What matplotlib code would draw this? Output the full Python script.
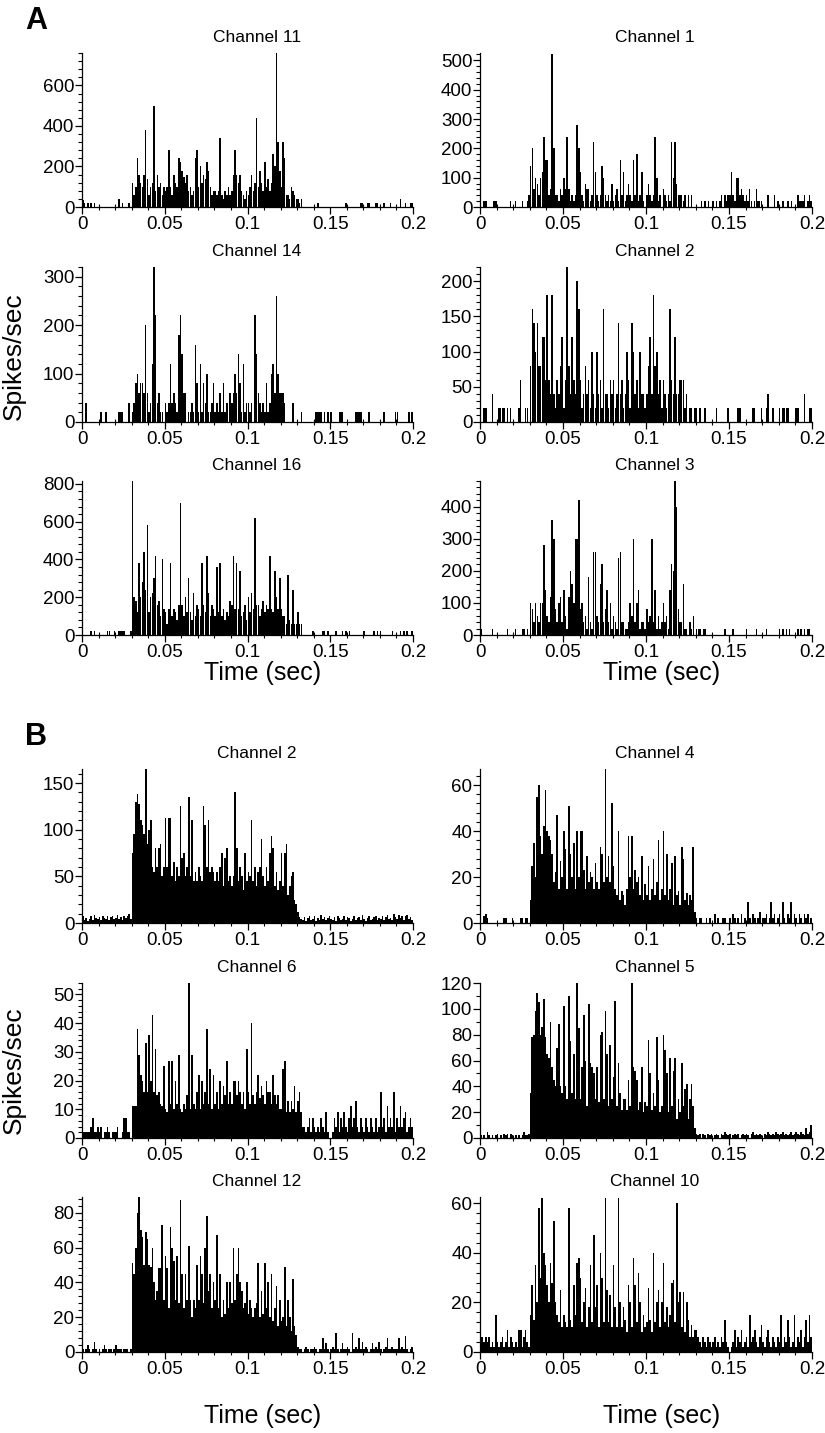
import numpy as np
import matplotlib
matplotlib.use("Agg")
import matplotlib.pyplot as plt
from matplotlib.ticker import MultipleLocator

plt.rcParams['font.family'] = ['Liberation Sans', 'DejaVu Sans']

# PSTH values, spikes/sec in 1 ms bins from 0 to 0.2 s (200 bins per channel)
# panel A
a_ch11 = [35,20,0,20,0,20,0,20,0,0, 0,0,0,0,0,0,0,0,0,0,
          0,0,40,0,20,0,0,0,20,0, 120,60,100,240,160,120,100,160,380,140,
          60,100,120,500,80,160,100,120,60,100, 80,100,280,100,60,160,120,100,240,220,
          180,150,120,160,80,100,60,80,240,280, 100,200,120,160,140,220,180,100,60,80,
          80,60,80,340,60,40,80,60,100,60, 80,160,280,160,120,160,80,60,40,80,
          60,100,160,80,120,440,100,180,120,80, 220,100,140,80,120,260,200,760,320,180,
          100,320,240,60,60,40,100,80,60,40, 40,20,40,0,0,0,0,0,0,0,
          0,0,20,0,0,0,0,0,0,0, 0,0,0,0,0,0,0,0,0,20,
          0,0,0,0,0,0,0,0,20,20, 0,0,20,20,0,0,0,20,20,0,
          0,0,20,0,0,0,20,0,0,0, 0,0,40,0,0,20,0,0,20,20]
a_ch1 = [0,0,20,20,0,0,0,0,20,20, 0,0,0,0,0,0,0,0,20,0,
         0,20,0,0,0,20,0,0,20,40, 140,200,60,100,80,40,100,120,240,160,
         160,40,60,520,200,40,40,20,60,40, 100,60,240,60,20,40,20,40,280,200,
         120,40,20,80,60,60,20,40,220,120, 40,20,40,140,100,40,20,40,20,80,
         20,40,60,20,160,40,120,20,40,80, 40,20,160,40,180,20,40,120,20,0,
         40,80,40,20,40,240,100,20,40,0, 60,40,20,40,20,220,100,220,80,40,
         40,40,20,40,0,40,0,40,0,0, 0,0,0,20,0,20,0,20,0,0,
         20,0,20,0,20,40,0,40,20,40, 40,120,40,20,100,100,40,60,40,20,
         40,20,60,20,0,20,60,20,20,20, 0,0,0,40,0,0,0,40,0,20,
         0,0,20,0,0,20,0,20,0,0, 0,40,20,20,20,40,0,20,40,20]
a_ch14 = [0,0,40,0,0,0,0,0,0,0, 0,20,0,0,20,0,0,0,0,0,
          0,0,20,20,20,0,0,0,40,0, 20,40,80,100,60,80,80,60,200,60,
          20,40,120,320,220,40,60,20,20,0, 40,20,40,120,40,60,40,20,180,220,
          140,60,60,0,20,20,40,20,160,80, 20,120,20,80,40,100,20,20,40,80,
          20,40,20,60,20,80,20,40,0,60, 40,60,100,60,140,80,20,120,20,40,
          40,20,40,0,220,140,60,40,20,40, 20,80,20,40,100,120,60,260,100,60,
          60,60,40,0,0,0,0,40,0,0, 0,0,20,0,0,0,0,0,0,0,
          0,20,20,20,20,0,20,0,20,0, 20,0,0,0,0,20,20,20,0,0,
          0,0,0,0,0,20,20,20,20,0, 0,0,0,20,0,0,0,0,0,0,
          0,0,20,0,0,0,0,0,0,20, 20,0,0,0,0,0,0,20,0,20]
a_ch2 = [0,0,20,20,0,0,0,40,0,0, 0,20,20,20,20,0,20,0,20,0,
         0,0,0,20,60,0,0,20,20,0, 80,160,140,100,140,80,80,120,120,60,
         180,60,40,180,40,20,60,40,80,120, 20,60,220,80,40,120,60,40,200,160,
         60,20,40,80,40,60,20,100,40,20, 100,40,60,20,160,40,40,20,60,40,
         60,20,40,140,40,60,20,40,100,60, 20,140,100,40,60,20,100,40,40,20,
         40,80,120,40,180,80,100,40,60,20, 60,40,20,40,160,60,40,120,40,40,
         60,60,60,20,40,0,20,20,0,20, 20,0,20,0,0,20,0,0,0,0,
         0,0,20,0,0,0,0,0,0,20, 0,0,0,0,0,20,20,0,0,0,
         0,0,0,0,20,20,0,0,0,20, 0,0,20,40,0,0,20,0,0,0,
         20,0,20,20,20,20,0,0,0,0, 20,20,0,0,0,40,0,0,20,20]
a_ch16 = [0,0,0,0,0,20,0,20,0,0, 0,0,0,0,0,20,20,0,0,20,
          0,0,20,20,20,20,0,0,0,20, 820,200,180,120,380,200,280,440,240,580,
          120,200,220,300,420,160,180,100,400,140, 120,60,140,380,100,140,120,80,160,700,
          160,100,200,120,300,120,80,220,100,160, 140,100,380,160,120,420,220,100,160,140,
          100,360,120,380,100,140,80,120,100,180, 160,420,140,380,140,340,100,120,160,80,
          200,120,220,140,620,160,160,100,140,180, 120,160,140,420,140,120,340,200,140,300,
          140,100,100,60,320,80,60,240,60,60, 120,60,60,0,0,0,0,0,0,20,
          0,0,0,0,0,20,20,0,20,0, 0,0,0,20,0,0,0,20,0,20,
          0,20,0,0,0,0,0,0,0,0, 20,0,0,0,0,0,20,0,20,0,
          20,0,0,0,0,0,0,20,0,0, 0,0,20,0,20,0,20,0,0,20]
a_ch3 = [20,0,0,0,0,0,0,20,0,0, 0,0,0,0,0,0,20,0,0,0,
         0,20,0,0,0,20,20,0,20,0, 100,80,40,100,60,40,100,100,280,140,
         60,40,120,360,300,80,40,100,120,40, 140,60,20,120,200,160,100,300,300,420,
         80,100,40,60,20,180,40,20,260,260, 60,40,160,220,40,80,140,40,100,20,
         60,40,20,240,260,40,40,20,20,40, 100,60,300,40,100,140,20,40,40,20,
         80,40,60,300,40,140,20,60,20,40, 100,40,60,20,140,220,200,480,400,80,
         40,40,160,20,20,0,40,20,60,0, 20,20,20,0,20,20,0,0,0,0,
         0,0,0,0,0,0,0,20,0,0, 0,0,20,0,0,0,0,0,0,0,
         20,0,0,0,0,0,20,0,0,0, 0,0,20,0,0,0,0,0,0,0,
         20,0,20,0,20,0,20,0,0,0, 0,20,0,20,0,20,0,20,20,0]

# panel B
b_ch2 = [8,3,5,2,4,7,3,9,5,4, 6,3,8,5,4,7,3,6,8,4,
         5,9,4,6,3,8,5,7,10,4, 75,95,130,138,128,110,105,95,165,85,
         100,110,60,55,80,60,80,85,50,60, 113,60,113,113,50,65,45,60,50,125,
         70,75,50,60,135,50,110,45,55,45, 60,50,45,125,105,60,110,55,60,55,
         45,55,45,60,75,40,70,80,45,50, 40,50,140,80,45,60,50,35,75,45,
         55,50,110,45,60,40,55,60,90,50, 40,60,45,75,93,80,40,55,35,45,
         75,40,75,85,30,40,50,55,25,20, 12,6,4,3,6,2,5,8,3,4,
         7,2,5,3,9,4,6,3,5,8, 4,3,6,2,7,5,3,4,8,3,
         6,5,2,4,7,3,5,6,3,9, 4,2,5,7,3,4,6,8,3,5,
         4,7,3,6,9,4,5,3,10,6, 4,9,5,8,3,7,9,4,6,3]
b_ch4 = [0,0,3,4,2,0,0,0,0,0, 0,0,0,0,2,2,0,0,0,2,
         0,0,0,0,2,2,0,2,2,0, 10,25,35,20,55,60,38,30,42,58,
         40,38,36,30,18,22,47,15,27,20, 40,32,15,51,30,20,35,15,40,20,
         40,40,23,15,29,18,22,20,15,26, 18,15,33,30,18,67,20,29,18,52,
         25,15,12,40,10,14,12,8,15,38, 20,38,15,23,18,20,12,29,10,17,
         12,25,10,15,28,12,18,36,10,15, 40,12,30,10,15,26,8,29,12,14,
         8,33,28,10,13,8,12,10,33,5, 2,0,2,2,0,0,2,0,2,0,
         0,4,0,2,0,0,2,2,0,0, 2,0,4,2,0,2,0,4,0,2,
         0,9,2,0,4,2,0,2,5,0, 2,2,4,0,2,9,2,4,0,2,
         4,0,9,2,0,4,2,9,0,4, 2,0,4,2,0,4,2,4,0,2]
b_ch6 = [2,2,2,2,2,4,7,2,2,4, 2,4,0,2,2,4,2,0,2,2,
         2,4,0,0,2,7,7,2,2,0, 11,11,11,38,29,22,20,16,33,16,
         36,20,43,16,31,15,16,12,11,25, 10,9,27,12,27,10,20,12,29,10,
         9,12,10,15,54,10,29,12,10,16, 22,10,20,12,16,38,12,24,10,22,
         12,16,10,20,12,18,15,27,12,16, 12,20,20,15,20,16,12,16,10,31,
         16,12,40,15,12,16,22,14,18,15, 12,20,16,16,12,22,15,12,15,10,
         10,24,27,9,13,9,13,10,18,9, 13,16,9,4,4,2,4,7,2,7,
         4,2,4,2,7,4,2,9,2,0, 0,2,7,4,9,2,7,4,9,4,
         2,7,11,4,7,13,4,2,7,4, 2,7,4,2,7,4,2,7,2,4,
         16,4,7,2,11,4,7,4,16,2, 7,4,11,4,7,9,2,4,7,4]
b_ch5 = [2,0,2,0,5,2,0,2,0,2, 3,0,2,0,3,2,3,0,3,2,
         0,2,0,2,0,2,5,2,2,3, 35,78,80,98,112,105,80,86,108,78,
         65,62,90,55,45,40,70,88,40,35, 102,40,30,110,75,35,65,30,120,85,
         30,55,95,60,25,104,58,55,50,30, 55,28,80,82,30,98,65,25,72,30,
         47,106,25,58,35,22,30,30,22,45, 25,120,55,52,45,22,28,55,20,28,
         25,76,50,22,35,25,78,45,20,25, 80,68,50,20,62,25,52,62,15,30,
         20,58,25,38,42,15,30,42,25,8, 3,2,3,0,3,2,0,3,2,3,
         0,2,3,2,0,3,2,5,3,2, 3,0,2,3,2,3,0,2,3,2,
         3,2,0,3,5,2,3,2,3,2, 0,3,2,5,3,2,3,2,5,3,
         2,3,5,2,3,2,3,5,2,3, 5,3,2,5,3,2,8,3,5,10]
b_ch12 = [2,0,2,4,2,0,2,6,2,0, 2,0,2,4,2,0,2,2,0,2,
          4,2,2,2,0,2,2,2,0,2, 51,45,60,80,89,70,66,50,69,65,
          50,49,60,40,30,35,48,48,73,30, 55,48,25,72,60,52,30,55,28,87,
          45,25,45,30,61,30,20,30,25,50, 30,55,45,28,60,78,35,45,25,40,
          30,67,25,45,20,30,22,40,25,40, 28,60,30,45,60,40,35,25,28,40,
          22,30,25,20,25,28,51,20,35,22, 51,25,40,20,45,18,25,38,15,30,
          18,20,49,15,30,20,12,42,15,10, 3,2,2,0,2,3,2,0,2,2,
          3,2,0,2,2,8,2,5,2,0, 2,3,2,11,2,0,2,5,2,2,
          3,2,0,11,2,3,2,8,2,6, 2,3,2,0,2,5,2,3,2,6,
          2,0,2,3,8,2,2,3,2,2, 2,8,2,3,2,9,2,0,2,3]
b_ch10 = [6,6,4,6,4,6,2,4,2,15, 4,2,4,6,2,4,9,2,6,4,
          2,4,2,9,9,2,6,9,4,2, 15,27,13,35,20,58,30,62,40,35,
          27,20,36,28,53,20,15,12,25,10, 15,12,10,58,13,10,27,15,36,38,
          30,12,20,26,10,18,35,12,47,18, 27,10,40,30,12,62,25,12,23,10,
          35,18,10,62,20,10,18,13,8,27, 20,10,38,27,12,32,20,8,15,10,
          12,26,13,8,40,12,20,25,10,20, 36,12,18,10,15,28,29,12,60,20,
          24,10,24,8,20,13,6,11,6,9, 9,6,4,2,6,4,2,6,4,2,
          4,6,2,4,2,6,4,13,4,2, 0,2,4,9,2,6,4,9,2,4,
          6,2,15,4,6,9,4,2,6,11, 4,2,6,9,4,2,6,4,2,6,
          4,15,2,6,4,13,6,2,4,15, 2,6,4,9,2,6,13,4,15,6]

titles = ["Channel 11", "Channel 1", "Channel 14", "Channel 2", "Channel 16", "Channel 3",
          "Channel 2", "Channel 4", "Channel 6", "Channel 5", "Channel 12", "Channel 10"]
series = [a_ch11, a_ch1, a_ch14, a_ch2, a_ch16, a_ch3,
          b_ch2, b_ch4, b_ch6, b_ch5, b_ch12, b_ch10]
ytops = [760, 525, 320, 220, 815, 480, 165, 67, 54, 120, 89, 62.5]
ymajor = [200, 100, 100, 50, 200, 100, 50, 20, 10, 20, 20, 20]
yminor = [40, 20, 20, 10, 40, 20, 10, 4, 2, 10, 4, 4]
xtick_vals = [0, 0.05, 0.1, 0.15, 0.2]
xtick_labels = ["0", "0.05", "0.1", "0.15", "0.2"]

W, H = 825, 1433
fig = plt.figure(figsize=(W / 100, H / 100), dpi=100)

# pixel layout of the panels
col_left = [82, 480]
col_right = [413, 812]
rows = [(53, 207), (267, 422), (481, 635), (769, 923), (983, 1138), (1197, 1352)]
title_x = [257, 655]

edges = np.arange(201) / 1000.0

for i in range(12):
    r, c = i // 2, i % 2
    top, bot = rows[r]
    ax = fig.add_axes([col_left[c] / W, 1 - bot / H,
                       (col_right[c] - col_left[c]) / W, (bot - top) / H])
    vals = np.array(series[i], dtype=float)
    if i < 6:
        # sparse histograms: thin bars
        ax.bar(edges[:-1] + 0.0005, vals, width=0.0009, color='black', linewidth=0)
    else:
        ax.stairs(vals, edges, fill=True, color='black', linewidth=0)
    ax.set_xlim(0, 0.2)
    ax.set_ylim(0, ytops[i])
    for s in ['top', 'right']:
        ax.spines[s].set_visible(False)
    for s in ['left', 'bottom']:
        ax.spines[s].set_linewidth(0.9)
    ax.set_xticks(xtick_vals)
    ax.set_xticklabels(xtick_labels)
    ax.xaxis.set_minor_locator(MultipleLocator(0.01))
    ax.yaxis.set_major_locator(MultipleLocator(ymajor[i]))
    ax.yaxis.set_minor_locator(MultipleLocator(yminor[i]))
    ax.tick_params(axis='both', which='major', labelsize=13.5, length=5, width=0.9, pad=1.5)
    ax.tick_params(axis='x', which='minor', direction='inout', length=4, width=0.8)
    ax.tick_params(axis='y', which='minor', length=3, width=0.8)
    ax.tick_params(axis='y', which='major', pad=0.5)
    fig.text(title_x[c] / W, 1 - (top - 16) / H, titles[i],
             ha='center', va='center', fontsize=12.5)

# axis labels and panel letters
for yc in [673, 1416]:
    fig.text(263 / W, 1 - yc / H, "Time (sec)", ha='center', va='center', fontsize=18)
    fig.text(662 / W, 1 - yc / H, "Time (sec)", ha='center', va='center', fontsize=18)
for yc in [356, 1070]:
    fig.text(14 / W, 1 - yc / H, "Spikes/sec", ha='center', va='center',
             rotation=90, fontsize=19)
fig.text(36 / W, 1 - 21 / H, "A", ha='center', va='center', fontsize=22, fontweight='bold')
fig.text(36 / W, 1 - 737 / H, "B", ha='center', va='center', fontsize=22, fontweight='bold')

fig.savefig("out.png", dpi=100)
